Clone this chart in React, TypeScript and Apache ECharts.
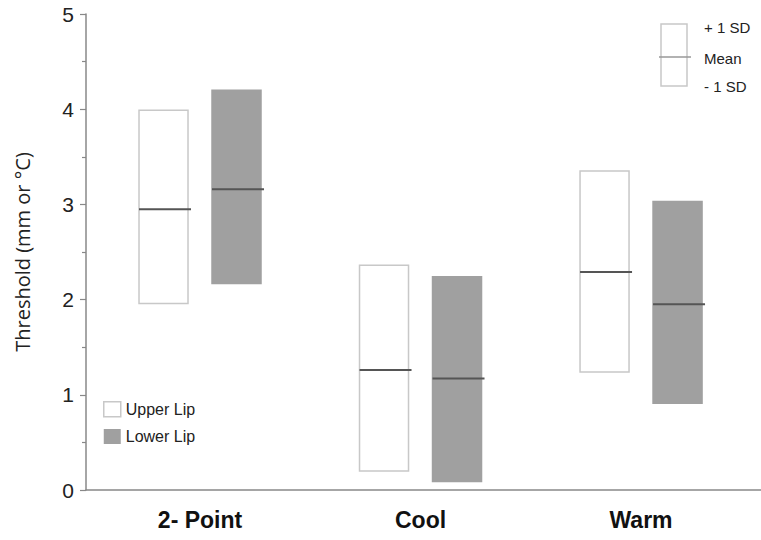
import React, { useEffect, useRef } from "react";
import * as echarts from "echarts";

const categories = ["2- Point", "Cool", "Warm"];
const yTicks = [0, 1, 2, 3, 4, 5];

// Upper Lip: mean and ±1 SD bounds
const upperMean = [2.95, 1.26, 2.29];
const upperHigh = [3.99, 2.36, 3.35];
const upperLow = [1.96, 0.2, 1.24];

// Lower Lip: mean and ±1 SD bounds
const lowerMean = [3.16, 1.17, 1.95];
const lowerHigh = [4.2, 2.24, 3.03];
const lowerLow = [2.17, 0.09, 0.91];

const sdLegendLabels = ["+ 1 SD", "Mean", "- 1 SD"];

const BAR_W = 49;
const OFFSET = 36.5;

function makeRender(offset: number, fill: string, stroke: string) {
  return (params: any, api: any) => {
    const cat = api.value(0);
    const lo = api.value(1);
    const hi = api.value(2);
    const mean = api.value(3);
    const cx = api.coord([cat, 0])[0] + offset;
    const top = api.coord([cat, hi])[1];
    const bottom = api.coord([cat, lo])[1];
    const my = api.coord([cat, mean])[1];
    return {
      type: "group",
      children: [
        {
          type: "rect",
          shape: { x: cx - BAR_W / 2, y: top, width: BAR_W, height: bottom - top },
          style: { fill, stroke, lineWidth: 1.5 },
        },
        {
          type: "line",
          shape: { x1: cx - BAR_W / 2, y1: my, x2: cx + BAR_W / 2 + 3, y2: my },
          style: { stroke: "#555", lineWidth: 2 },
        },
      ],
    };
  };
}

export default function App() {
  const ref = useRef<HTMLDivElement>(null);
  useEffect(() => {
    if (!ref.current) return;
    const chart = echarts.init(ref.current, null, { renderer: "svg" });
    const upperData = categories.map((_, i) => [i, upperLow[i], upperHigh[i], upperMean[i]]);
    const lowerData = categories.map((_, i) => [i, lowerLow[i], lowerHigh[i], lowerMean[i]]);
    const sans = "'Liberation Sans', Arial, sans-serif";
    chart.setOption({
      animation: false,
      backgroundColor: "#fff",
      grid: { left: 86, right: 0, top: 14, bottom: 50 },
      legend: {
        orient: "vertical",
        left: 103,
        top: 401,
        icon: "rect",
        itemWidth: 17,
        itemHeight: 15,
        itemGap: 11,
        padding: 0,
        selectedMode: false,
        textStyle: { fontSize: 16, color: "#222", fontFamily: sans },
        data: [
          { name: "Upper Lip", itemStyle: { color: "#fff", borderColor: "#c8c8c8", borderWidth: 1.5 } },
          { name: "Lower Lip", itemStyle: { color: "#a0a0a0", borderWidth: 0 } },
        ],
      },
      xAxis: {
        type: "value",
        min: -0.517,
        max: 2.544,
        splitLine: { show: false },
        axisTick: { show: false },
        axisLine: { show: true, onZero: false, lineStyle: { color: "#888", width: 1.5 } },
        axisLabel: {
          customValues: [0, 1, 2],
          formatter: (v: number) => categories[Math.round(v)] ?? "",
          fontSize: 23,
          fontWeight: "bold",
          color: "#111",
          fontFamily: sans,
          margin: 18,
        },
      },
      yAxis: {
        type: "value",
        min: 0,
        max: 5,
        interval: 1,
        name: "Threshold (mm or °C)",
        nameLocation: "middle",
        nameGap: 54,
        nameTextStyle: { fontSize: 20, color: "#222", fontFamily: "'Open Sans', sans-serif" },
        axisLine: { show: true, onZero: false, lineStyle: { color: "#888", width: 1.5 } },
        axisTick: { show: true, length: 6, lineStyle: { color: "#888", width: 1.2 } },
        minorTick: { show: true, splitNumber: 2, length: 4, lineStyle: { color: "#888", width: 1.2 } },
        splitLine: { show: false },
        minorSplitLine: { show: false },
        axisLabel: {
          fontSize: 21,
          color: "#222",
          fontFamily: sans,
          margin: 12,
          formatter: (v: number) => (yTicks.includes(v) ? String(v) : ""),
        },
      },
      graphic: [
        {
          type: "rect",
          shape: { x: 661, y: 24, width: 26, height: 62 },
          style: { fill: "#fff", stroke: "#c8c8c8", lineWidth: 1.5 },
        },
        {
          type: "line",
          shape: { x1: 659, y1: 57, x2: 691, y2: 57 },
          style: { stroke: "#999", lineWidth: 1.5 },
        },
        ...sdLegendLabels.map((t, i) => ({
          type: "text",
          x: 704,
          y: [27, 58, 86][i],
          style: {
            text: t,
            fontSize: 15,
            fill: "#222",
            fontFamily: sans,
            textVerticalAlign: "middle",
            verticalAlign: "middle",
          },
        })),
      ],
      series: [
        {
          name: "Upper Lip",
          type: "custom",
          itemStyle: { color: "#fff", borderColor: "#c8c8c8", borderWidth: 1.5 },
          encode: { x: 0, y: [1, 2, 3] },
          renderItem: makeRender(-OFFSET, "#fff", "#c8c8c8"),
          data: upperData,
        },
        {
          name: "Lower Lip",
          type: "custom",
          itemStyle: { color: "#a0a0a0" },
          encode: { x: 0, y: [1, 2, 3] },
          renderItem: makeRender(OFFSET, "#a0a0a0", "#a0a0a0"),
          data: lowerData,
        },
      ],
    });
    return () => chart.dispose();
  }, []);
  return (
    <div
      ref={ref}
      style={{ position: "absolute", left: 0, top: 0, width: 761, height: 540 }}
    />
  );
}
